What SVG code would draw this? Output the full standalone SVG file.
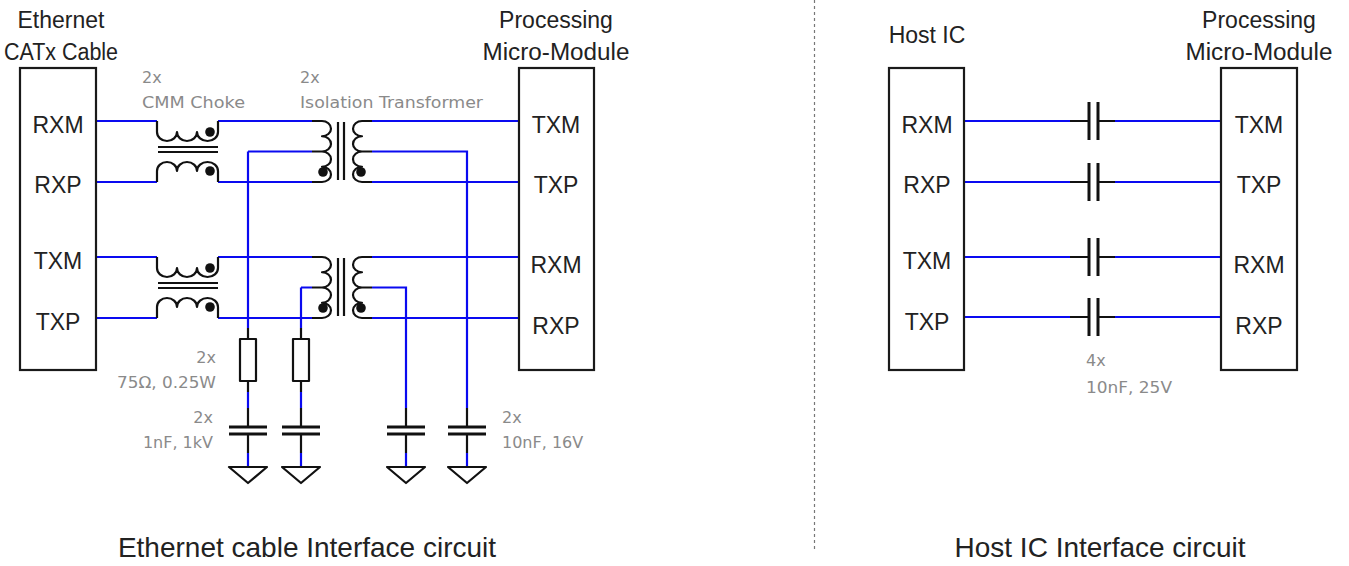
<svg xmlns="http://www.w3.org/2000/svg" width="1349" height="566" viewBox="0 0 1349 566">
<style>
.box{fill:#fff;stroke:#1a1a1a;stroke-width:2.2}
.sym{fill:none;stroke:#111;stroke-width:2.2;stroke-linejoin:round}
.plate{fill:none;stroke:#111;stroke-width:3}
.dot{fill:#111}
.wire{fill:none;stroke:#0a0af0;stroke-width:2.2}
.hdr{font-family:"Liberation Sans",Arial,sans-serif;font-size:23px;fill:#222;text-anchor:middle}
.note{font-family:"DejaVu Sans","Liberation Sans",sans-serif;font-size:16px;fill:#8a8a8a}
.title{font-family:"Liberation Sans",Arial,sans-serif;font-size:28px;fill:#222;text-anchor:middle}
</style>
<rect width="1349" height="566" fill="#fff"/>
<line x1="814.5" y1="0" x2="814.5" y2="552" stroke="#777" stroke-width="1.2" stroke-dasharray="3 3"/>

<g id="connectors">
<path class="wire" d="M96,121H157M218,121H312M372,121H519M96,182H157M218,182H312M372,182H519"/>
<path class="wire" d="M96,257H157M218,257H312M372,257H519M96,318H157M218,318H312M372,318H519"/>
<path class="wire" d="M248,151.5H312M248,151.5V328M372,151.5H467V408"/>
<path class="wire" d="M301,287.5H312M301,287.5V328M372,287.5H406V408"/>
<path class="wire" d="M248,392V408M301,392V408M248,453V467M301,453V467M406,453V467M467,453V467"/>
<path class="wire" d="M964,121H1070M1115,121H1221M964,182H1070M1115,182H1221M964,257H1070M1115,257H1221M964,317H1070M1115,317H1221"/>
</g>

<g id="ethernet-cable">
<rect class="box" x="20" y="68" width="76" height="302"/>
<text class="hdr" x="61" y="28">Ethernet</text>
<text class="hdr" x="61" y="60" textLength="114" lengthAdjust="spacingAndGlyphs">CATx Cable</text>
<text class="hdr" x="58" y="133">RXM</text>
<text class="hdr" x="58" y="193">RXP</text>
<text class="hdr" x="58" y="269">TXM</text>
<text class="hdr" x="58" y="330">TXP</text>
</g>

<g id="processing-left">
<rect class="box" x="519" y="68" width="75" height="302"/>
<text class="hdr" x="556" y="28">Processing</text>
<text class="hdr" x="556" y="60" textLength="147" lengthAdjust="spacingAndGlyphs">Micro-Module</text>
<text class="hdr" x="556" y="133">TXM</text>
<text class="hdr" x="556" y="193">TXP</text>
<text class="hdr" x="556" y="273">RXM</text>
<text class="hdr" x="556" y="334">RXP</text>
</g>

<g id="choke-top" transform="translate(157,121)">
<path class="sym" d="M0,0V11A10,9 0 0 0 20,11A10,9 0 0 0 40,11A10.5,9 0 0 0 61,11V0"/>
<circle class="dot" cx="53" cy="11" r="4.8"/>
<path class="sym" d="M1,26H61M1,31H61"/>
<path class="sym" d="M0,61V50A10,9 0 0 1 20,50A10,9 0 0 1 40,50A10.5,9 0 0 1 61,50V61"/>
<circle class="dot" cx="53" cy="50" r="4.8"/>
</g>
<g id="choke-bottom" transform="translate(157,257)">
<path class="sym" d="M0,0V11A10,9 0 0 0 20,11A10,9 0 0 0 40,11A10.5,9 0 0 0 61,11V0"/>
<circle class="dot" cx="53" cy="11" r="4.8"/>
<path class="sym" d="M1,26H61M1,31H61"/>
<path class="sym" d="M0,61V50A10,9 0 0 1 20,50A10,9 0 0 1 40,50A10.5,9 0 0 1 61,50V61"/>
<circle class="dot" cx="53" cy="50" r="4.8"/>
</g>
<g id="choke-label">
<text class="note" x="142" y="83">2x</text>
<text class="note" x="142" y="108" textLength="103" lengthAdjust="spacingAndGlyphs">CMM Choke</text>
</g>

<g id="transformer-top" transform="translate(312,121)">
<path class="sym" d="M0,0H10A9,7.625 0 0 1 10,15.25A9,7.625 0 0 1 10,30.5A9,7.625 0 0 1 10,45.75A9,7.625 0 0 1 10,61H0M0,30.5H10"/>
<circle class="dot" cx="11" cy="51" r="4.8"/>
<path class="sym" d="M26,1V59M32,1V59"/>
<path class="sym" d="M60,0H50A9,7.625 0 0 0 50,15.25A9,7.625 0 0 0 50,30.5A9,7.625 0 0 0 50,45.75A9,7.625 0 0 0 50,61H60M50,30.5H60"/>
<circle class="dot" cx="49" cy="51" r="4.8"/>
</g>
<g id="transformer-bottom" transform="translate(312,257)">
<path class="sym" d="M0,0H10A9,7.625 0 0 1 10,15.25A9,7.625 0 0 1 10,30.5A9,7.625 0 0 1 10,45.75A9,7.625 0 0 1 10,61H0M0,30.5H10"/>
<circle class="dot" cx="11" cy="51" r="4.8"/>
<path class="sym" d="M26,1V59M32,1V59"/>
<path class="sym" d="M60,0H50A9,7.625 0 0 0 50,15.25A9,7.625 0 0 0 50,30.5A9,7.625 0 0 0 50,45.75A9,7.625 0 0 0 50,61H60M50,30.5H60"/>
<circle class="dot" cx="49" cy="51" r="4.8"/>
</g>
<g id="transformer-label">
<text class="note" x="300" y="83">2x</text>
<text class="note" x="300" y="108" textLength="183" lengthAdjust="spacingAndGlyphs">Isolation Transformer</text>
</g>

<g id="r1">
<path class="sym" d="M248,328V339M248,381V392"/>
<rect class="sym" x="240" y="339" width="16" height="42" fill="#fff"/>
</g>
<g id="r2">
<path class="sym" d="M301,328V339M301,381V392"/>
<rect class="sym" x="293" y="339" width="16" height="42" fill="#fff"/>
</g>
<g id="r-label">
<text class="note" x="216" y="363" text-anchor="end">2x</text>
<text class="note" x="216" y="388" text-anchor="end" textLength="99" lengthAdjust="spacingAndGlyphs">75Ω, 0.25W</text>
</g>

<g id="c1">
<path class="sym" d="M248,408V427M248,434V453"/>
<path class="plate" d="M229,427H267M229,434H267"/>
</g>
<g id="c2">
<path class="sym" d="M301,408V427M301,434V453"/>
<path class="plate" d="M282,427H320M282,434H320"/>
</g>
<g id="c3">
<path class="sym" d="M406,408V427M406,434V453"/>
<path class="plate" d="M387,427H425M387,434H425"/>
</g>
<g id="c4">
<path class="sym" d="M467,408V427M467,434V453"/>
<path class="plate" d="M448,427H486M448,434H486"/>
</g>
<g id="c-labels">
<text class="note" x="213" y="423" text-anchor="end">2x</text>
<text class="note" x="213" y="448" text-anchor="end">1nF, 1kV</text>
<text class="note" x="502" y="423">2x</text>
<text class="note" x="502" y="448">10nF, 16V</text>
</g>

<g id="gnd1"><path class="sym" d="M229,467H267L248,483Z"/></g>
<g id="gnd2"><path class="sym" d="M282,467H320L301,483Z"/></g>
<g id="gnd3"><path class="sym" d="M387,467H425L406,483Z"/></g>
<g id="gnd4"><path class="sym" d="M448,467H486L467,483Z"/></g>

<g id="host-ic">
<rect class="box" x="889" y="68" width="75" height="302"/>
<text class="hdr" x="927" y="43">Host IC</text>
<text class="hdr" x="927" y="133">RXM</text>
<text class="hdr" x="927" y="193">RXP</text>
<text class="hdr" x="927" y="269">TXM</text>
<text class="hdr" x="927" y="330">TXP</text>
</g>

<g id="processing-right">
<rect class="box" x="1221" y="68" width="76" height="302"/>
<text class="hdr" x="1259" y="28">Processing</text>
<text class="hdr" x="1259" y="60" textLength="147" lengthAdjust="spacingAndGlyphs">Micro-Module</text>
<text class="hdr" x="1259" y="133">TXM</text>
<text class="hdr" x="1259" y="193">TXP</text>
<text class="hdr" x="1259" y="273">RXM</text>
<text class="hdr" x="1259" y="334">RXP</text>
</g>

<g id="series-caps">
<path class="sym" d="M1070,121H1089M1098,121H1115M1070,182H1089M1098,182H1115M1070,257H1089M1098,257H1115M1070,317H1089M1098,317H1115"/>
<path class="plate" d="M1089,102V140M1098,102V140M1089,163V201M1098,163V201M1089,238V276M1098,238V276M1089,298V336M1098,298V336"/>
<text class="note" x="1086" y="366">4x</text>
<text class="note" x="1086" y="393" textLength="86" lengthAdjust="spacingAndGlyphs">10nF, 25V</text>
</g>

<g id="titles">
<text class="title" x="307" y="557">Ethernet cable Interface circuit</text>
<text class="title" x="1100" y="557">Host IC Interface circuit</text>
</g>
</svg>
